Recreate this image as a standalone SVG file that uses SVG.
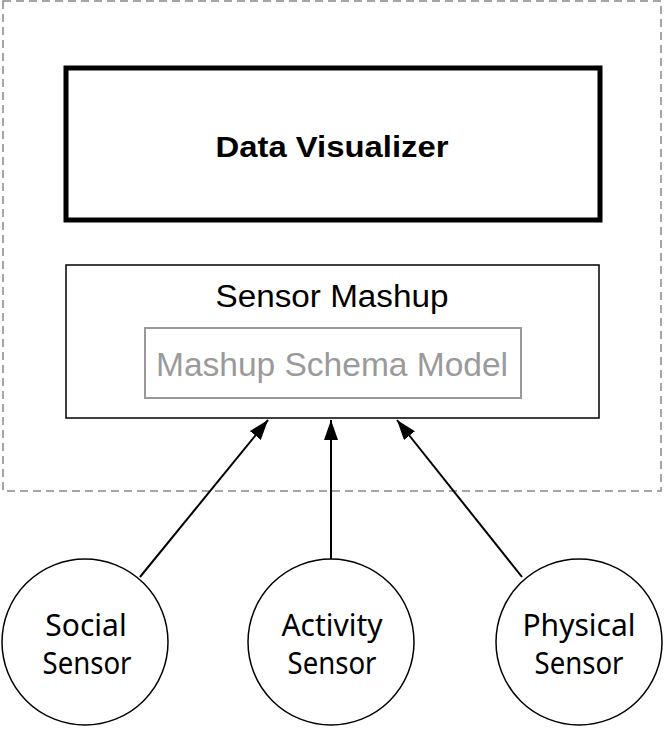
<svg xmlns="http://www.w3.org/2000/svg" width="664" height="731" viewBox="0 0 664 731">
<style>
.t{font-family:"Liberation Sans",Arial,sans-serif;text-anchor:middle;fill:#000}
.c{font-family:"Noto Sans","Open Sans",sans-serif;text-anchor:middle;fill:#000;font-size:30px}
.node{fill:#fff;stroke:#000}
.edge{stroke:#000;stroke-width:2;fill:none}
</style>
<defs>
<marker id="arr" viewBox="0 0 20 14" refX="20" refY="7" markerWidth="20" markerHeight="14" orient="auto" markerUnits="userSpaceOnUse">
<path d="M0,0 L20,7 L0,14 z" fill="#000"/>
</marker>
</defs>
<rect width="664" height="731" fill="#fff"/>
<g id="boundary">
<rect x="3" y="1" width="658" height="490" fill="none" stroke="#888" stroke-width="1.5" stroke-dasharray="8,5"/>
</g>
<g id="data-visualizer">
<rect class="node" x="66" y="68" width="534" height="152" stroke-width="5"/>
<text class="t" x="332" y="157" font-size="30" font-weight="bold" textLength="233" lengthAdjust="spacingAndGlyphs">Data Visualizer</text>
</g>
<g id="sensor-mashup">
<rect class="node" x="66" y="265" width="533" height="153" stroke-width="1.5"/>
<text class="t" x="332" y="307" font-size="31" textLength="233" lengthAdjust="spacingAndGlyphs">Sensor Mashup</text>
<g id="mashup-schema-model">
<rect x="145" y="328" width="376" height="70" fill="none" stroke="#999" stroke-width="2"/>
<text class="t" x="332" y="376" font-size="33" style="fill:#9a9a9a" textLength="352" lengthAdjust="spacingAndGlyphs">Mashup Schema Model</text>
</g>
</g>
<g id="social-sensor">
<circle class="node" cx="85" cy="642" r="83" stroke-width="1.5"/>
<text class="c" x="86" y="636">Social</text>
<text class="c" x="87" y="674" textLength="89" lengthAdjust="spacingAndGlyphs">Sensor</text>
</g>
<g id="activity-sensor">
<circle class="node" cx="331" cy="642" r="83" stroke-width="1.5"/>
<text class="c" x="332" y="636">Activity</text>
<text class="c" x="332" y="674" textLength="89" lengthAdjust="spacingAndGlyphs">Sensor</text>
</g>
<g id="physical-sensor">
<circle class="node" cx="579" cy="642" r="83" stroke-width="1.5"/>
<text class="c" x="579" y="636">Physical</text>
<text class="c" x="579" y="674" textLength="89" lengthAdjust="spacingAndGlyphs">Sensor</text>
</g>
<g id="connectors">
<line class="edge" x1="140" y1="577" x2="268" y2="420" marker-end="url(#arr)"/>
<line class="edge" x1="331" y1="559" x2="331" y2="420" marker-end="url(#arr)"/>
<line class="edge" x1="522" y1="577" x2="397" y2="420" marker-end="url(#arr)"/>
</g>
</svg>
